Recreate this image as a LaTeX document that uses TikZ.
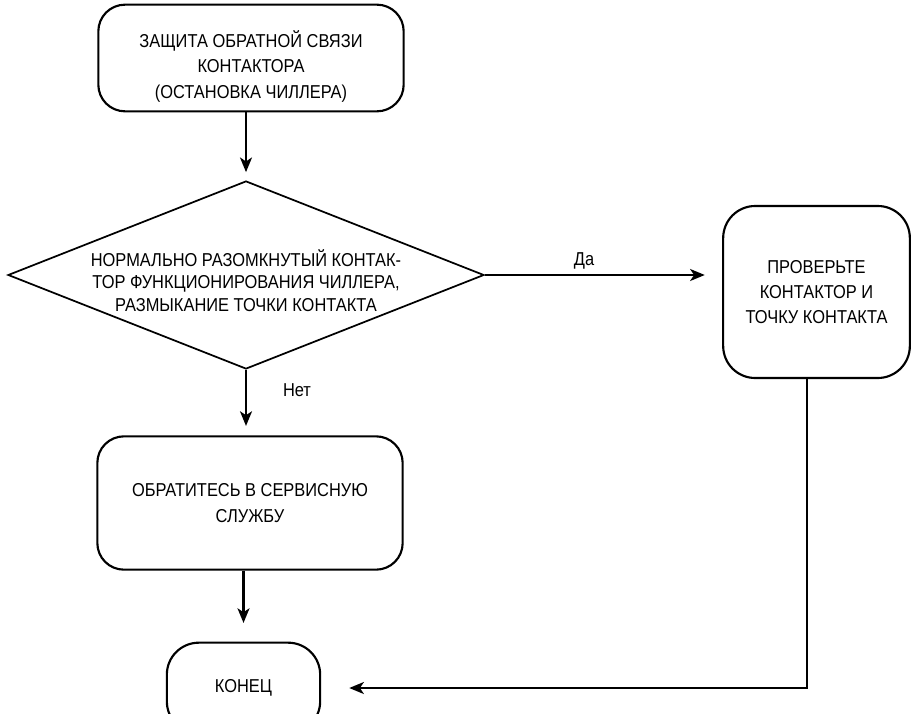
\documentclass[tikz,border=0pt]{standalone}
\usepackage{fontspec}
\setmainfont{Liberation Sans}[FakeStretch=0.88]
\usetikzlibrary{shapes.geometric,arrows.meta}

\begin{document}
\begin{tikzpicture}[x=0.75pt, y=-0.75pt, >={Stealth[length=11pt,width=9pt,inset=3pt]},
    box/.style={draw, line width=1.6pt, rounded corners=20pt, align=center,
        font=\fontsize{14}{19}\selectfont},
    decision/.style={draw, diamond, line width=1.3pt, align=center, inner sep=-40pt,
        font=\fontsize{14}{17}\selectfont},
    link/.style={->, line width=1.6pt},
    tag/.style={font=\fontsize{14}{19}\selectfont}]

    % 1. Khung
    \useasboundingbox (0,0) rectangle (912,713);

    % 2. Cac khoi
    \node[box, minimum width=229pt, minimum height=80pt] (start) at (251,58)
        {\rule{0pt}{25pt}ЗАЩИТА ОБРАТНОЙ СВЯЗИ\\КОНТАКТОРА\\(ОСТАНОВКА ЧИЛЛЕРА)};
    \node[decision, minimum width=357pt, minimum height=141pt] (cond) at (246,275)
        {\rule{0pt}{21pt}НОРМАЛЬНО РАЗОМКНУТЫЙ КОНТАК-\\ТОР ФУНКЦИОНИРОВАНИЯ ЧИЛЛЕРА,\\РАЗМЫКАНИЕ ТОЧКИ КОНТАКТА};
    \node[box, minimum width=229pt, minimum height=100pt] (service) at (250,503)
        {ОБРАТИТЕСЬ В СЕРВИСНУЮ\\СЛУЖБУ};
    \node[box, minimum width=115pt, minimum height=68pt, rounded corners=24pt] (end) at (243.5,688)
        {КОНЕЦ};
    \node[box, minimum width=140pt, minimum height=129pt, rounded corners=24pt] (check) at (816.5,292)
        {ПРОВЕРЬТЕ\\КОНТАКТОР И\\ТОЧКУ КОНТАКТА};
    \coordinate (back) at ([xshift=-7pt]check.south);

    % 3. Mui ten
    \draw[link, shorten >=6pt] (start.south -| cond.north) -- (cond.north);
    \draw[link, shorten >=7pt] (cond.south) -- (cond.south |- service.north);
    \draw[link, shorten >=14pt] (service.south -| end.north) -- (end.north);
    \draw[link, shorten >=13pt] (cond.east) -- (cond.east -| check.west);
    \draw[link, shorten >=21pt] (back) |- (end.east);

    % Nhan
    \node[tag] (yes) at (584,261) {Да};
    \node[tag] (no) at (297,390) {Нет};

\end{tikzpicture}
\end{document}
